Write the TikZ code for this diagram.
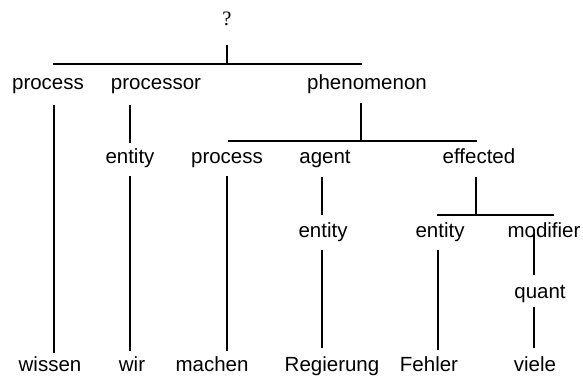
\documentclass[tikz,border=0pt]{standalone}
\usepackage{fontspec}
\setmainfont{Liberation Sans}
\newfontfamily\qfont{Liberation Serif}
\begin{document}
\begin{tikzpicture}[x=1pt,y=-1pt,
  lab/.style={font=\fontsize{20.5}{24}\selectfont, inner sep=0pt, anchor=base},
  qlab/.style={font=\qfont\fontsize{20.5}{24}\selectfont, inner sep=0pt, anchor=base},
  branch/.style={line width=1.6pt}]
\useasboundingbox (0,0) rectangle (583,376);
% labels
\node[qlab] (q) at (227,25) {?};
\node[lab] (p1) at (48,89) {process};
\node[lab] (p2) at (156,89) {processor};
\node[lab] (p3) at (367,89) {phenomenon};
\node[lab] (e1) at (130,163) {entity};
\node[lab] (p4) at (227,163) {process};
\node[lab] (ag) at (325,163) {agent};
\node[lab] (ef) at (479,163) {effected};
\node[lab] (e2) at (323,237) {entity};
\node[lab] (e3) at (440,237) {entity};
\node[lab] (mo) at (544,237) {modifier};
\node[lab] (qu) at (540,298) {quant};
\node[lab] (w1) at (50,371) {wissen};
\node[lab] (w2) at (132,371) {wir};
\node[lab] (w3) at (212,371) {machen};
\node[lab] (w4) at (332,371) {Regierung};
\node[lab] (w5) at (429,371) {Fehler};
\node[lab] (w6) at (535,371) {viele};
% bars
\coordinate (b1) at (227,64);
\coordinate (b1l) at (53,64);
\coordinate (b1r) at (362,64);
\coordinate (b2) at (361,141);
\coordinate (b2l) at (228,141);
\coordinate (b2r) at (477,141);
\coordinate (b3) at (476,215);
\coordinate (b3l) at (437,215);
\coordinate (b3r) at (554,215);
\draw[branch] (b1l) -- (b1r);
\draw[branch] (b2l) -- (b2r);
\draw[branch] (b3l) -- (b3r);
% connectors
\draw[branch] ([shift={(0,20)}]q.base) -- (b1);
\draw[branch] ([shift={(6,16)}]p1.base) -- ([shift={(4,-18)}]w1.base);
\draw[branch] ([shift={(-26,16)}]p2.base) -- ([shift={(0,-20)}]e1.base);
\draw[branch] ([shift={(0,13)}]e1.base) -- ([shift={(-2,-20)}]w2.base);
\draw[branch] ([shift={(-6,14)}]p3.base) -- (b2);
\draw[branch] ([shift={(0,13)}]p4.base) -- ([shift={(15,-20)}]w3.base);
\draw[branch] ([shift={(-3,14)}]ag.base) -- ([shift={(-1,-22)}]e2.base);
\draw[branch] ([shift={(-1,13)}]e2.base) -- ([shift={(-10,-23)}]w4.base);
\draw[branch] ([shift={(-3,14)}]ef.base) -- (b3);
\draw[branch] ([shift={(-2,13)}]e3.base) -- ([shift={(9,-21)}]w5.base);
\draw[branch] ([shift={(-10,-4)}]mo.base) -- ([shift={(-6,-23)}]qu.base);
\draw[branch] ([shift={(-6,9)}]qu.base) -- ([shift={(-1,-23)}]w6.base);
\end{tikzpicture}
\end{document}
